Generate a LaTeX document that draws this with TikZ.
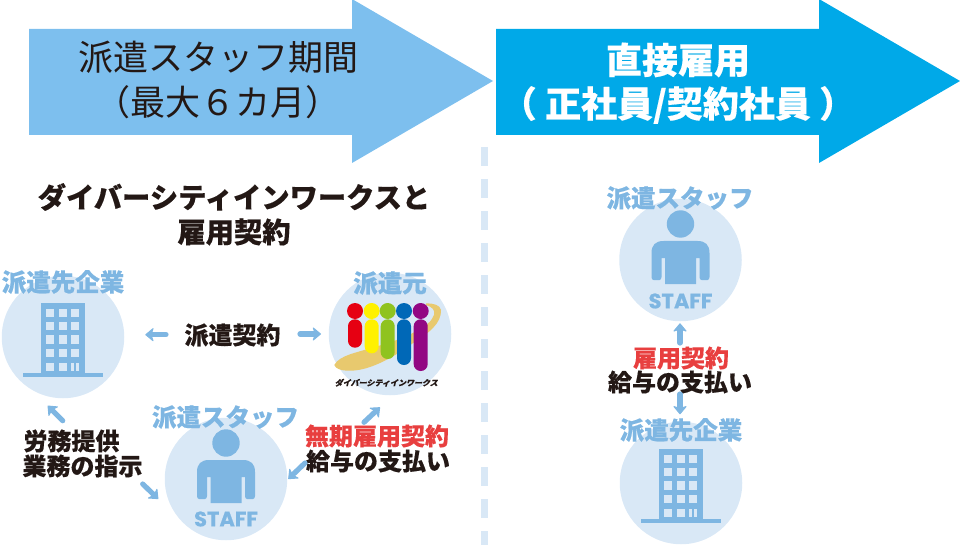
\documentclass[tikz,border=0pt]{standalone}
\usepackage{fontspec}
\setmainfont{Noto Sans CJK JP}[BoldFeatures={FakeBold=0.35}]
\newfontfamily\stafffont{Poppins}[BoldFeatures={FakeBold=0.5}]
\usetikzlibrary{arrows.meta}
\definecolor{arrowA}{HTML}{7DBFEE}
\definecolor{arrowB}{HTML}{00A9E8}
\definecolor{pale}{HTML}{D9E8F6}
\definecolor{midblue}{HTML}{7EB6E2}
\definecolor{redtxt}{HTML}{E83F3F}
\definecolor{ink}{HTML}{231815}
\definecolor{gold}{HTML}{E8C96E}
\newcommand{\fs}[1]{\fontsize{#1}{#1}\selectfont}
\tikzset{
  disc/.style={circle,fill=pale,minimum size=122.5pt,inner sep=0pt},
  txt/.style={inner sep=0pt,align=center,text=ink,font=\fs{24}\bfseries},
  bluetxt/.style={txt,text=midblue,font=\fs{24.5}\bfseries},
  redlabel/.style={txt,text=redtxt},
  headline/.style={inner sep=0pt,align=center,text=ink,font=\fs{35}},
  whitehead/.style={inner sep=0pt,align=center,text=white,font=\fs{36}\bfseries},
  title/.style={txt,font=\fs{28.3}\bfseries},
  stafflabel/.style={inner sep=0pt,text=midblue,font=\stafffont\fs{21}\bfseries},
  flow/.style={draw=midblue,line width=5.2pt,line cap=round,
    -{Stealth[length=9pt,width=15pt,inset=2.5pt,round,line width=1pt]}},
  building/.pic={
    \fill[midblue] (-22,-34) rectangle (22,38);
    \fill[midblue] (-40,36) rectangle (40,40);
    \foreach \ry in {-28.5,-15,-1.7,11.7}{
      \fill[pale] (-17,\ry) rectangle ++(8.3,8.3);
      \fill[pale] (-4.3,\ry) rectangle ++(8.3,8.3);
      \fill[pale] (8,\ry) rectangle ++(8.3,8.3);}
    \fill[pale] (-17,25.7) rectangle ++(8.3,8);
    \fill[pale] (-4.3,25.7) rectangle ++(8.3,8);
    \fill[pale] (8,25.7) rectangle ++(3.4,8);
    \fill[pale] (13,25.7) rectangle ++(3.4,8);
  },
  person/.pic={
    \fill[midblue] (0,-36) circle (13.7);
    \fill[midblue] (-29,17) -- (-29,-7) .. controls (-29,-15) and (-25,-19) .. (-17,-19)
      -- (17,-19) .. controls (25,-19) and (29,-15) .. (29,-7) -- (29,17)
      .. controls (29,19) and (28,20) .. (27,20) -- (21,20)
      .. controls (20,20) and (19,19) .. (19,17) -- (19,-2) -- (15.5,-2)
      -- (15.5,24) -- (-15.5,24) -- (-15.5,-2) -- (-19,-2) -- (-19,17)
      .. controls (-19,19) and (-20,20) .. (-21,20) -- (-27,20)
      .. controls (-28,20) and (-29,19) .. (-29,17) -- cycle;
  },
}
\begin{document}
\begin{tikzpicture}[x=1pt,y=-1pt]
\useasboundingbox (0,0) rectangle (960,545);
% big arrows
\fill[arrowA] (29,29) -- (352,29) -- (352,-1) -- (493,81) -- (352,163) -- (352,135) -- (29,135) -- cycle;
\fill[arrowB] (496,29) -- (819,29) -- (819,-1) -- (960,81) -- (819,163) -- (819,135) -- (496,135) -- cycle;
\node[headline] (h1) at (218,57) {派遣スタッフ期間};
\node[headline] (h2) at (218,102) {（最大６カ月）};
\node[whitehead] (h3) at (678,60) {直接雇用};
\node[whitehead] (h4) at (678,105) {（ 正社員/契約社員 ）};
% divider
\coordinate (divtop) at (484,147);
\coordinate (divbot) at (484,545);
\draw[pale,line width=7pt,dash pattern=on 19pt off 13pt] (divtop) -- (divbot);
% title
\node[title] (t1) at (234,197) {ダイバーシティインワークスと};
\node[title] (t2) at (234,232) {雇用契約};
% discs
\node[disc] (client) at (63,337) {};
\node[disc] (agency) at (390,334) {};
\node[disc] (staffL) at (226,479) {};
\node[disc] (staffR) at (680.5,260) {};
\node[disc] (clientR) at (681,483) {};
\pic at (client) {building};
\pic at (clientR) {building};
\pic at (staffL) {person};
\pic at (staffR) {person};
\node[stafflabel] (s1) at (226,519) {STAFF};
\node[stafflabel] (s2) at (680.5,301) {STAFF};
% logo
\begin{scope}
  \fill[gold] (334.3,365)
     .. controls (336.7,372.3) and (355,372.3) .. (370,367)
     .. controls (388.3,360.7) and (403.3,350) .. (415,341.7)
     .. controls (428.3,333.3) and (441.7,323.3) .. (441,310)
     .. controls (440.3,305) and (433.3,303.3) .. (426,303.3)
     -- (426,305)
     .. controls (431.7,306.7) and (435.7,310) .. (434,315)
     .. controls (431.7,321.7) and (425,326.7) .. (415,331.7)
     .. controls (398.3,341.7) and (368.3,348.3) .. (350,354.3)
     .. controls (343.3,356.7) and (336.7,360) .. (334.3,365) -- cycle;
  \foreach \cx/\by/\col in {355/347.7/E60012,371.7/353.3/FFF100,387.7/359/8FC31F,404/365/0068B7,420.7/371/920783}{
    \definecolor{barcol}{HTML}{\col}
    \fill[barcol] (\cx,311) circle (8);
    \fill[barcol,rounded corners=6.9pt] (\cx-7,319.3) rectangle (\cx+7,\by);
  }
\end{scope}
\node[inner sep=0pt,text=ink,font=\fs{8}\bfseries,xslant=0.25,transform shape] (logotxt) at (387,382.7) {ダイバーシティインワークス};
% blue labels
\node[bluetxt] (l1) at (63,282) {派遣先企業};
\node[bluetxt] (l2) at (390,283) {派遣元};
\node[bluetxt] (l3) at (225.5,417) {派遣スタッフ};
\node[bluetxt] (l4) at (680,198) {派遣スタッフ};
\node[bluetxt] (l5) at (681,430) {派遣先企業};
% black & red labels
\node[txt] (c1) at (232.5,335) {派遣契約};
\node[txt] (c2) at (71.5,441) {労務提供};
\node[txt] (c3) at (82.5,466) {業務の指示};
\node[redlabel] (c4) at (377,436) {無期雇用契約};
\node[txt] (c5) at (378,461) {給与の支払い};
\node[redlabel] (c6) at (681,358) {雇用契約};
\node[txt] (c7) at (680,382) {給与の支払い};
% connectors
\coordinate (a1) at (166,334.7); \coordinate (a2) at (145.3,334.7);
\coordinate (b1) at (300,334); \coordinate (b2) at (321,334);
\coordinate (d1) at (62.7,420.7); \coordinate (d2) at (47.7,405.7);
\coordinate (e1) at (142.7,484); \coordinate (e2) at (158.3,499);
\coordinate (f1) at (364,422.3); \coordinate (f2) at (380,407.3);
\coordinate (g1) at (305,463); \coordinate (g2) at (288.3,479);
\coordinate (i1) at (680,343); \coordinate (i2) at (680,323.3);
\coordinate (j1) at (680,394); \coordinate (j2) at (680,414.3);
\foreach \p/\q in {a1/a2,b1/b2,d1/d2,e1/e2,f1/f2,g1/g2,i1/i2,j1/j2}
  \draw[flow] (\p) -- (\q);
\end{tikzpicture}
\end{document}
